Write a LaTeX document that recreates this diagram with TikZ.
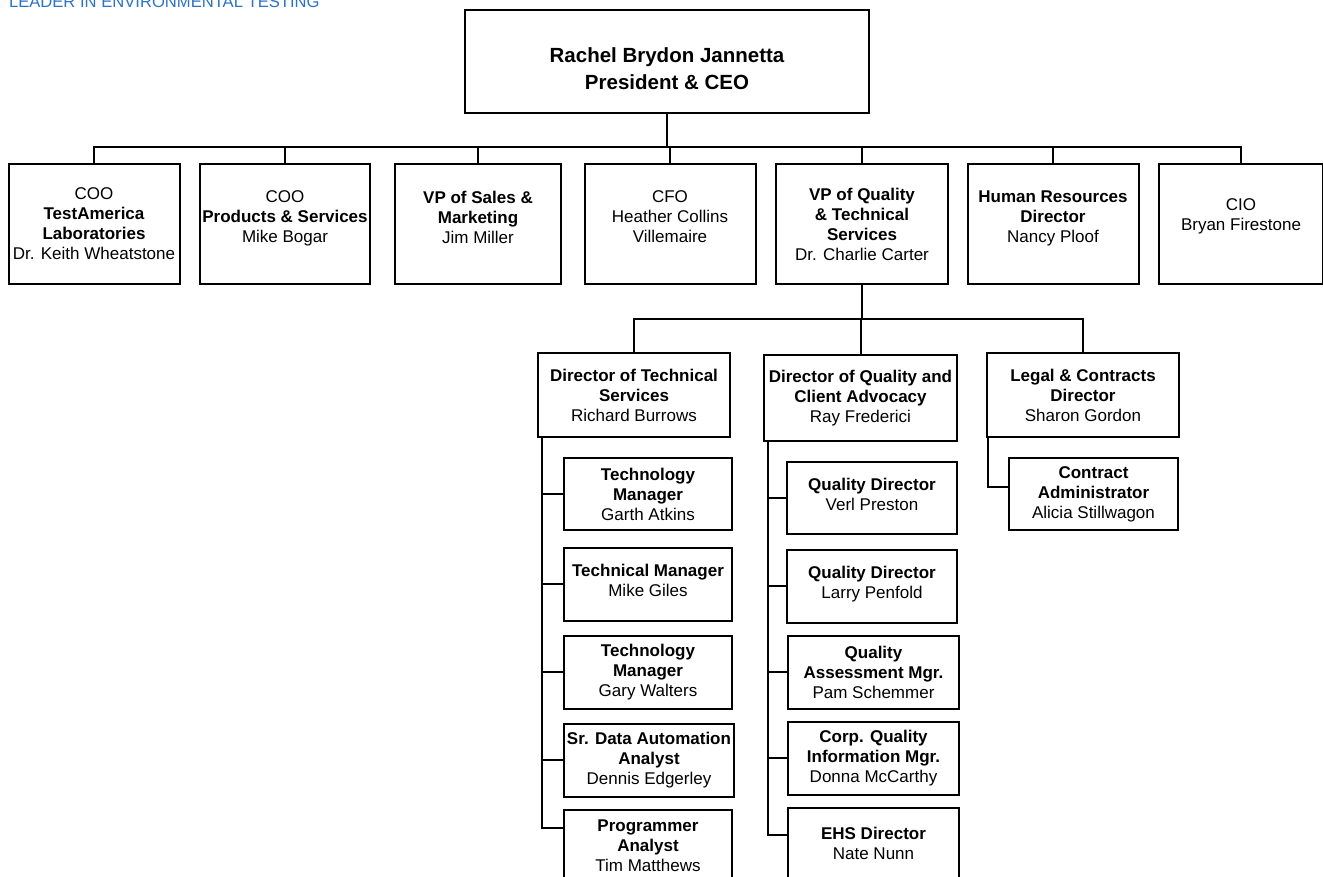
\documentclass[tikz,border=0pt]{standalone}
\usepackage{fontspec}
\setmainfont{Liberation Sans}
\definecolor{tagblue}{RGB}{45,115,195}
\newcommand{\pname}[1]{\textmd{#1}}

\begin{document}
\begin{tikzpicture}[
    x=0.5pt, y=-0.5pt,
    role/.style={draw, line width=1pt, inner sep=0pt, align=center,
      font=\fontsize{8.5}{10}\selectfont\bfseries},
    lift/.style={text depth=#1},
    link/.style={line width=1pt},
  ]
    \useasboundingbox (0,0) rectangle (1323,877);
    \clip (0,0) rectangle (1323,877);
    \node[anchor=base west, text=tagblue, font=\fontsize{8.3}{10}\selectfont] (tag) at (2,8) {LEADER IN ENVIRONMENTAL TESTING};

    % top of the chart
    \node[role, minimum width=202pt, minimum height=51.5pt, text height=28.5pt, font=\fontsize{10.25}{13.5}\selectfont\bfseries] (ceo) at (667,61.5) {Rachel Brydon Jannetta\\President \& CEO};
    \node[role, minimum width=85.5pt, minimum height=60pt] (coo1) at (94,224) {\pname{COO}\\TestAmerica\\Laboratories\\\pname{Dr. Keith Wheatstone}};
    \node[role, minimum width=85pt, minimum height=60pt, lift=7pt] (coo2) at (285,224) {\pname{COO}\\Products \& Services\\\pname{Mike Bogar}};
    \node[role, minimum width=83pt, minimum height=60pt, lift=7pt] (vps) at (478,224) {VP of Sales \&\\Marketing\\\pname{Jim Miller}};
    \node[role, minimum width=85.5pt, minimum height=60pt, lift=7pt] (cfo) at (670,224) {\pname{CFO}\\\pname{Heather Collins}\\\pname{Villemaire}};
    \node[role, minimum width=86pt, minimum height=60pt] (vpq) at (862,224) {VP of Quality\\\& Technical\\Services\\\pname{Dr. Charlie Carter}};
    \node[role, minimum width=85.5pt, minimum height=60pt, lift=7pt] (hr) at (1053,224) {Human Resources\\Director\\\pname{Nancy Ploof}};
    \node[role, minimum width=82pt, minimum height=60pt, lift=9pt] (cio) at (1241,224) {\pname{CIO}\\\pname{Bryan Firestone}};
    \coordinate (bus1) at (667,147);
    \draw[link] (ceo.south) -- (bus1);
    \foreach \n in {coo1,coo2,vps,cfo,vpq,hr,cio}
      \draw[link] (bus1) -| (\n.north);

    % quality & technical services
    \node[role, minimum width=96pt, minimum height=42pt] (dts) at (634,395) {Director of Technical\\Services\\\pname{Richard Burrows}};
    \node[role, minimum width=96.5pt, minimum height=43pt] (dqca) at (860.5,398) {Director of Quality and\\Client Advocacy\\\pname{Ray Frederici}};
    \node[role, minimum width=96pt, minimum height=42pt] (legal) at (1083,395) {Legal \& Contracts\\Director\\\pname{Sharon Gordon}};
    \coordinate (bus2) at (862,319);
    \draw[link] (vpq.south) -- (bus2);
    \foreach \n in {dts,dqca,legal}
      \draw[link] (bus2) -| (\n.north);

    \node[role, minimum width=84pt, minimum height=36pt] (tech1) at (648,494) {Technology\\Manager\\\pname{Garth Atkins}};
    \node[role, minimum width=84pt, minimum height=36.5pt, lift=4pt] (tech2) at (648,584) {Technical Manager\\\pname{Mike Giles}};
    \node[role, minimum width=84pt, minimum height=36.5pt] (tech3) at (648,672) {Technology\\Manager\\\pname{Gary Walters}};
    \node[role, minimum width=85pt, minimum height=36.5pt] (tech4) at (649,760) {Sr. Data Automation\\Analyst\\\pname{Dennis Edgerley}};
    \node[role, minimum width=84pt, minimum height=36pt] (tech5) at (648,846) {Programmer\\Analyst\\\pname{Tim Matthews}};
    \foreach \n in {tech1,tech2,tech3,tech4}
      \draw[link] ([xshift=2.5pt]dts.south west) |- (\n.west);
    \draw[link] ([xshift=2.5pt]dts.south west) |- ([yshift=-9.5pt]tech5.north west);

    \node[role, minimum width=85pt, minimum height=36pt, lift=4pt] (qual1) at (872,498) {Quality Director\\\pname{Verl Preston}};
    \node[role, minimum width=85pt, minimum height=36.5pt, lift=4pt] (qual2) at (872,586) {Quality Director\\\pname{Larry Penfold}};
    \node[role, minimum width=85.5pt, minimum height=36.5pt] (qual3) at (873.5,672) {Quality\\Assessment Mgr.\\\pname{Pam Schemmer}};
    \node[role, minimum width=85.5pt, minimum height=36.5pt] (qual4) at (873.5,758) {Corp. Quality\\Information Mgr.\\\pname{Donna McCarthy}};
    \node[role, minimum width=85.5pt, minimum height=35pt] (qual5) at (873.5,843) {EHS Director\\\pname{Nate Nunn}};
    \foreach \n in {qual1,qual2,qual3,qual4}
      \draw[link] ([xshift=2.5pt]dqca.south west) |- (\n.west);
    \draw[link] ([xshift=2.5pt]dqca.south west) |- ([yshift=-14pt]qual5.north west);

    \node[role, minimum width=84.5pt, minimum height=36pt] (cadmin) at (1093.5,494) {Contract\\Administrator\\\pname{Alicia Stillwagon}};
    \draw[link] ([xshift=1pt]legal.south west) |- ([yshift=-15pt]cadmin.north west);
  \end{tikzpicture}
\end{document}
